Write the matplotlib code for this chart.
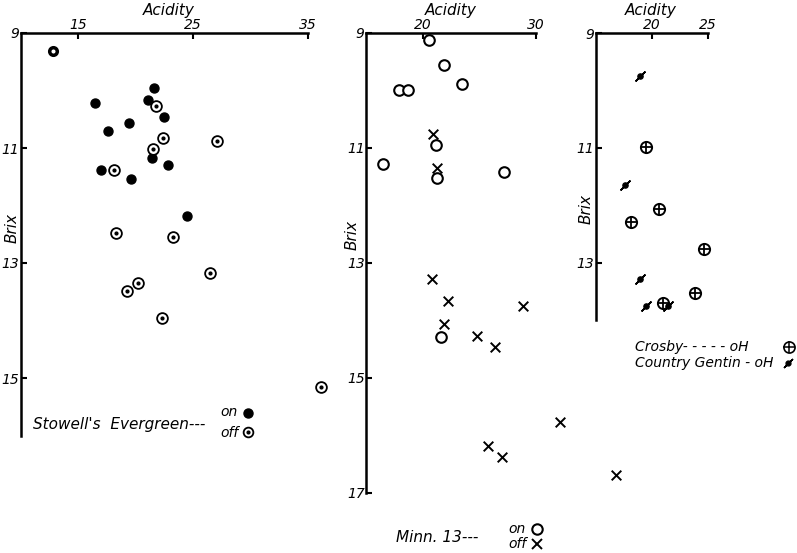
"""
Brix vs acidity, three hand-drawn panels (Stowell's Evergreen, Minn. 13, Crosby / Country Gentleman)
"""

import matplotlib
matplotlib.use('Agg')
import matplotlib.pyplot as plt

W, H = 797, 553

# Stowell's Evergreen
stowell_on_acid = [21.6, 16.5, 21.1, 22.5, 19.4, 17.6, 21.4, 22.8, 17.0, 19.6, 24.45]
stowell_on_brix = [9.95, 10.21, 10.17, 10.46, 10.57, 10.70, 11.18, 11.30, 11.39, 11.54, 12.19]
stowell_off_acid = [21.8, 22.4, 27.1, 21.5, 18.1, 18.3, 23.3, 26.5, 20.25, 19.3, 22.3, 36.1]
stowell_off_brix = [10.27, 10.83, 10.88, 11.02, 11.39, 12.47, 12.55, 13.18, 13.34, 13.49, 13.96, 15.15]
stowell_ring_acid = [12.85]
stowell_ring_brix = [9.31]

# Minn. 13
minn_on_acid = [20.56, 21.88, 23.50, 17.89, 18.68, 21.20, 16.53, 21.24, 27.18, 21.62]
minn_on_brix = [9.13, 9.56, 9.89, 9.99, 9.99, 10.95, 11.28, 11.53, 11.42, 14.29]
minn_off_acid = [20.89, 21.24, 20.80, 22.26, 28.83, 21.91, 24.77, 26.38, 32.12, 25.79, 26.97, 37.06]
minn_off_brix = [10.76, 11.35, 13.28, 13.67, 13.75, 14.06, 14.27, 14.47, 15.77, 16.18, 16.38, 16.69]

# Crosby / Country Gentleman (both off)
crosby_acid = [19.44, 20.65, 18.13, 24.62, 23.85, 21.00]
crosby_brix = [10.99, 12.07, 12.29, 12.76, 13.53, 13.70]
gentin_acid = [18.93, 17.60, 18.93, 19.47, 21.45]
gentin_brix = [9.75, 11.64, 13.28, 13.76, 13.75]

FONT = dict(family='DejaVu Sans', style='italic', color='black')


def px_axes(fig, left, right, top, bottom):
	return fig.add_axes([left / W, 1 - bottom / H, (right - left) / W, (bottom - top) / H])


def style_axes(ax, xlim, ylim, xticks, yticks):
	ax.set_xlim(*xlim)
	ax.set_ylim(ylim[1], ylim[0])
	ax.patch.set_alpha(0)
	for s in ['right', 'bottom']:
		ax.spines[s].set_visible(False)
	for s in ['left', 'top']:
		ax.spines[s].set_linewidth(1.8)
	ax.xaxis.tick_top()
	ax.set_xticks(xticks)
	ax.set_yticks(yticks)
	ax.set_xticklabels([str(t) for t in xticks], **FONT, fontsize=10)
	ax.set_yticklabels([str(t) for t in yticks], **FONT, fontsize=10)
	ax.tick_params(axis='both', direction='in', length=4, width=1.5, pad=1)


def off_marker(ax, x, y, size=60):
	ax.scatter(x, y, s=size, facecolors='white', edgecolors='black', linewidths=1.3, clip_on=False, zorder=3)
	ax.scatter(x, y, s=4, color='black', clip_on=False, zorder=4)


def text(fig, x, y, s, size=11, **kw):
	fig.text(x / W, 1 - y / H, s, fontsize=size, **FONT, **kw)


def main():
	fig = plt.figure(figsize=(W / 100, H / 100), dpi=100)

	## panel 1: Stowell's Evergreen ##
	ax1 = px_axes(fig, 20.5, 308, 33, 435.5)
	style_axes(ax1, (10, 35), (9, 16), [15, 25, 35], [9, 11, 13, 15])
	ax1.scatter(stowell_on_acid, stowell_on_brix, s=42, color='black', clip_on=False, zorder=3)
	off_marker(ax1, stowell_off_acid, stowell_off_brix)
	ax1.scatter(stowell_ring_acid, stowell_ring_brix, s=30, facecolors='white', edgecolors='black',
		linewidths=2.5, clip_on=False, zorder=3)

	## panel 2: Minn. 13 ##
	ax2 = px_axes(fig, 366, 536, 33, 492.7)
	style_axes(ax2, (15, 30), (9, 17), [20, 30], [9, 11, 13, 15, 17])
	ax2.scatter(minn_on_acid, minn_on_brix, s=58, facecolors='white', edgecolors='black',
		linewidths=1.5, clip_on=False, zorder=3)
	ax2.scatter(minn_off_acid, minn_off_brix, s=48, marker='x', color='black', linewidths=1.4,
		clip_on=False, zorder=3)

	## panel 3: Crosby and Country Gentleman ##
	ax3 = px_axes(fig, 595.7, 708.3, 33, 320)
	style_axes(ax3, (15, 25), (9, 14), [20, 25], [9, 11, 13])
	ax3.scatter(crosby_acid, crosby_brix, s=65, facecolors='white', edgecolors='black',
		linewidths=1.4, clip_on=False, zorder=3)
	ax3.scatter(crosby_acid, crosby_brix, s=65, marker='+', color='black', linewidths=1.3,
		clip_on=False, zorder=4)
	ax3.scatter(gentin_acid, gentin_brix, s=80, marker=(2, 2, -45), color='black', linewidths=1.2,
		clip_on=False, zorder=3)
	ax3.scatter(gentin_acid, gentin_brix, s=14, color='black', clip_on=False, zorder=4)

	# axis titles
	for cx in [169, 451, 651]:
		text(fig, cx, 11, 'Acidity', size=11, ha='center', va='center')
	for cx, cy in [(12, 228), (352, 235), (586, 209)]:
		text(fig, cx, cy, 'Brix', size=11, ha='center', va='center', rotation=90)

	# legends
	text(fig, 33, 425, "Stowell's  Evergreen---", ha='left', va='center')
	text(fig, 220, 412, 'on', size=10, ha='left', va='center')
	text(fig, 220, 433, 'off', size=10, ha='left', va='center')
	fig.lines.append(plt.Line2D([248 / W], [1 - 413 / H], marker='o', markersize=6.5, color='black',
		linestyle='none', transform=fig.transFigure))
	fig.lines.append(plt.Line2D([248 / W], [1 - 432 / H], marker='o', markersize=7, markerfacecolor='white',
		markeredgecolor='black', markeredgewidth=1.3, linestyle='none', transform=fig.transFigure))
	fig.lines.append(plt.Line2D([248 / W], [1 - 432 / H], marker='o', markersize=2, color='black',
		linestyle='none', transform=fig.transFigure))

	text(fig, 396, 537, 'Minn. 13---', ha='left', va='center')
	text(fig, 508, 529, 'on', size=10, ha='left', va='center')
	text(fig, 508, 544, 'off', size=10, ha='left', va='center')
	fig.lines.append(plt.Line2D([537 / W], [1 - 529 / H], marker='o', markersize=7.5, markerfacecolor='white',
		markeredgecolor='black', markeredgewidth=1.5, linestyle='none', transform=fig.transFigure))
	fig.lines.append(plt.Line2D([537 / W], [1 - 544 / H], marker='x', markersize=7, color='black',
		markeredgewidth=1.4, linestyle='none', transform=fig.transFigure))

	text(fig, 635, 347, 'Crosby- - - - - oH', size=10, ha='left', va='center')
	text(fig, 635, 363, 'Country Gentin - oH', size=10, ha='left', va='center')
	fig.lines.append(plt.Line2D([789 / W], [1 - 347 / H], marker='o', markersize=8, markerfacecolor='white',
		markeredgecolor='black', markeredgewidth=1.2, linestyle='none', transform=fig.transFigure))
	fig.lines.append(plt.Line2D([789 / W], [1 - 347 / H], marker='+', markersize=8, color='black',
		markeredgewidth=1.1, linestyle='none', transform=fig.transFigure))
	fig.lines.append(plt.Line2D([788 / W], [1 - 363 / H], marker=(2, 2, -45), markersize=9, color='black',
		markeredgewidth=1.1, linestyle='none', transform=fig.transFigure))
	fig.lines.append(plt.Line2D([788 / W], [1 - 363 / H], marker='o', markersize=3.5, color='black',
		linestyle='none', transform=fig.transFigure))

	fig.savefig('out.png', dpi=100)


if __name__ == '__main__':
	main()
